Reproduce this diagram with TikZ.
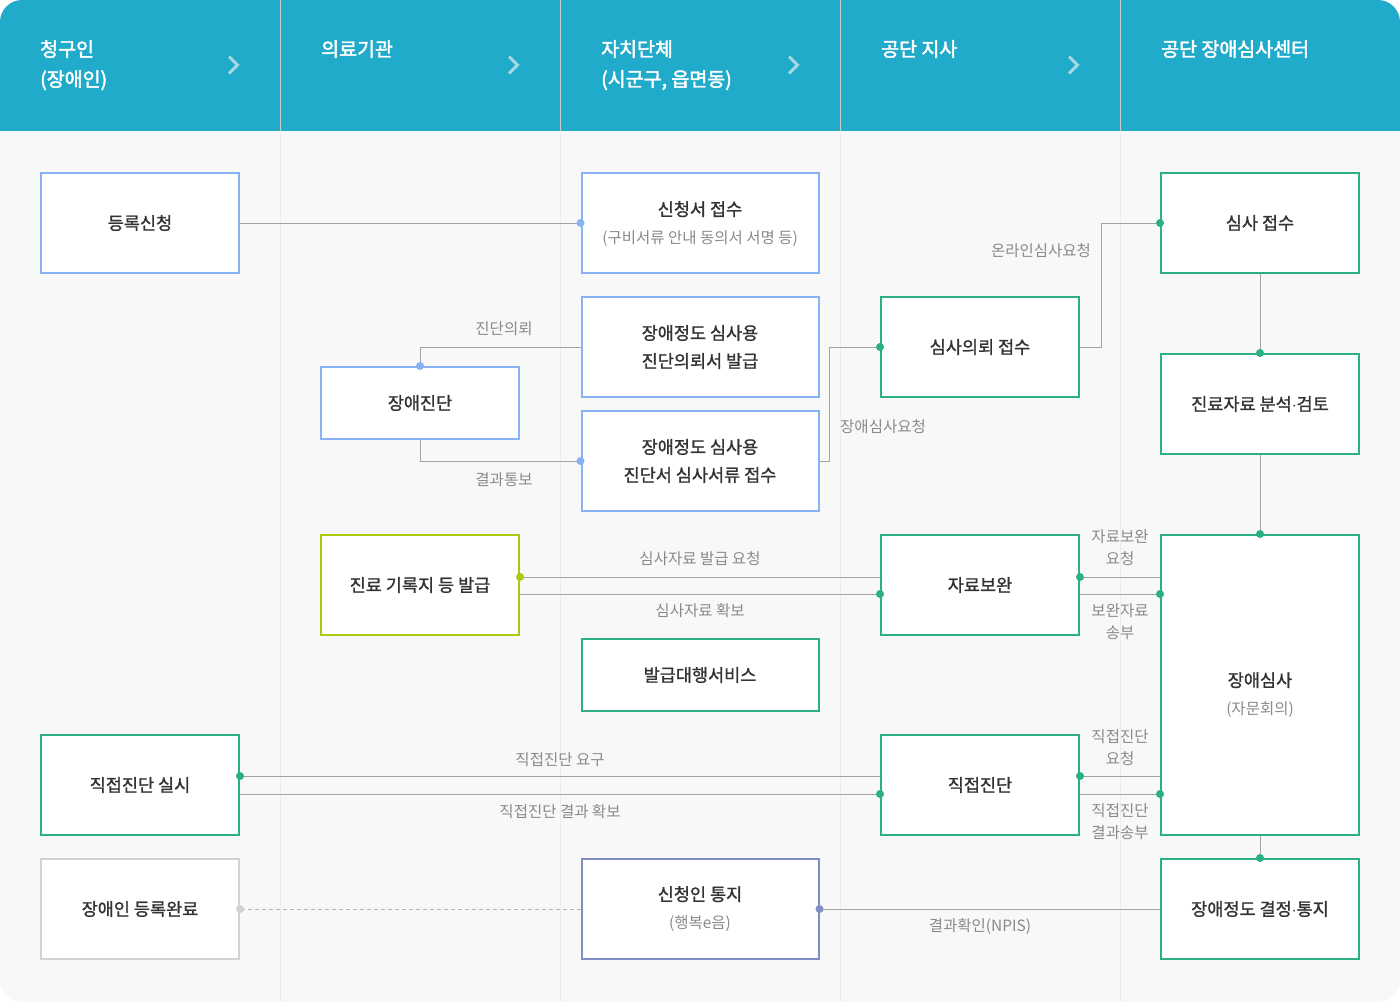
\documentclass[tikz,border=0pt]{standalone}
\usepackage{fontspec}
\setmainfont{Noto Sans CJK KR}
\newfontfamily\krmid{Noto Sans CJK KR}[FakeBold=1.2]
\newfontfamily\krbold{Noto Sans CJK KR}[FakeBold=2.2]
\definecolor{hdr}{HTML}{21ABCB}
\definecolor{bodybg}{HTML}{F8F8F8}
\definecolor{divbody}{HTML}{ECECEC}
\definecolor{divhdr}{HTML}{C9CED0}
\definecolor{chev}{HTML}{A6D6E2}
\definecolor{cblue}{HTML}{88B2F6}
\definecolor{cgreen}{HTML}{2BB07F}
\definecolor{clime}{HTML}{AFC80F}
\definecolor{cgray}{HTML}{D2D2D2}
\definecolor{cpurple}{HTML}{7F8EC4}
\definecolor{ctext}{HTML}{333333}
\definecolor{clabel}{HTML}{8A8A8A}
\definecolor{cline}{HTML}{A3A3A3}
\tikzset{
  box/.style={draw, line width=2pt, fill=white, minimum width=198pt, minimum height=100pt, inner sep=0pt, align=center, text=ctext, font=\krmid\fontsize{17.5}{28}\selectfont},
  widebox/.style={minimum width=237pt},
  shortbox/.style={minimum height=72pt},
  bluebox/.style={box, draw=cblue},
  greenbox/.style={box, draw=cgreen},
  hdrtext/.style={anchor=north west, inner sep=0pt, text=white, align=left, font=\krbold\fontsize{19.5}{30}\selectfont},
  lbl/.style={inner sep=0pt, text=clabel, align=center, font=\fontsize{15.5}{22}\selectfont},
  conn/.style={draw=cline, line width=1pt},
  chevron/.style={draw=chev, line width=3pt},
}
\newcommand{\subt}[1]{{\color{clabel}\fontsize{15.5}{27}\selectfont\normalfont #1}}
\begin{document}
\begin{tikzpicture}[x=1pt,y=-1pt]
\useasboundingbox (0,0) rectangle (1400,1002);
\fill[white] (0,0) rectangle (1400,1002);
\begin{scope}
  \clip[rounded corners=22pt] (0,0) rectangle (1400,1002);
  \fill[bodybg] (0,0) rectangle (1400,1002);
  \fill[hdr] (0,0) rectangle (1400,131);
  \foreach \x in {280.5,560.5,840.5,1120.5} {
    \draw[divhdr, line width=1pt] (\x,0) -- (\x,131);
    \draw[divbody, line width=1pt] (\x,131) -- (\x,1002);
  }
\end{scope}
% header
\node[hdrtext] (h1) at (40,40) {청구인\\(장애인)};
\node[hdrtext] (h2) at (321,40) {의료기관};
\node[hdrtext] (h3) at (601,40) {자치단체\\(시군구, 읍면동)};
\node[hdrtext] (h4) at (881,40) {공단 지사};
\node[hdrtext] (h5) at (1161,40) {공단 장애심사센터};
\foreach \x in {229,509,789,1069} {
  \draw[chevron] (\x,56.5) -- (\x+8.5,65) -- (\x,73.5);
}
% boxes
\node[bluebox] (reg) at (140,223) {등록신청};
\node[bluebox, widebox] (app) at (700,223) {};
\node[align=center, inner sep=0pt, text=ctext, font=\krmid\fontsize{17.5}{28}\selectfont] (apptxt) at (700,224) {신청서 접수\\\subt{(구비서류 안내 동의서 서명 등)}};
\node[bluebox, widebox] (req) at (700,347) {장애정도 심사용\\진단의뢰서 발급};
\node[bluebox, shortbox] (diag) at (420,403) {장애진단};
\node[bluebox, widebox] (rcv) at (700,461) {장애정도 심사용\\진단서 심사서류 접수};
\node[greenbox] (rvq) at (980,347) {심사의뢰 접수};
\node[greenbox] (rvr) at (1260,223) {심사 접수};
\node[greenbox] (ana) at (1260,404) {진료자료 분석$\cdot$검토};
\node[box, draw=clime] (rec) at (420,585) {진료 기록지 등 발급};
\node[greenbox] (sup) at (980,585) {자료보완};
\node[greenbox, widebox, shortbox] (svc) at (700,675) {발급대행서비스};
\node[greenbox, minimum height=300pt] (jud) at (1260,685) {};
\node[align=center, inner sep=0pt, text=ctext, font=\krmid\fontsize{17.5}{28}\selectfont] (judtxt) at (1260,695) {장애심사\\\subt{(자문회의)}};
\node[greenbox] (dd1) at (140,785) {직접진단 실시};
\node[greenbox] (dd2) at (980,785) {직접진단};
\node[box, draw=cgray] (done) at (140,909) {장애인 등록완료};
\node[box, widebox, draw=cpurple] (ntf) at (700,909) {신청인 통지\\\subt{(행복e음)}};
\node[greenbox] (fin) at (1260,909) {장애정도 결정$\cdot$통지};
% helper coordinates
\coordinate (r1) at ([yshift=8pt]rec.east);
\coordinate (r2) at ([yshift=-9pt]rec.east);
\coordinate (s1) at ([yshift=8pt]sup.east);
\coordinate (s2) at ([yshift=-9pt]sup.east);
\coordinate (d1) at ([yshift=9pt]dd1.east);
\coordinate (d2) at ([yshift=-9pt]dd1.east);
\coordinate (e1) at ([yshift=9pt]dd2.east);
\coordinate (e2) at ([yshift=-9pt]dd2.east);
% connectors
\draw[conn] (reg.east) -- (app.west);
\fill[cblue] (app.west) circle (4pt);
\draw[conn] (req.west) -| (diag.north);
\fill[cblue] (diag.north) circle (4pt);
\draw[conn] (diag.south) |- (rcv.west);
\fill[cblue] (rcv.west) circle (4pt);
\draw[conn] (rcv.east) -- ++(10,0) |- (rvq.west);
\fill[cgreen] (rvq.west) circle (4pt);
\draw[conn] (rvq.east) -- ++(21,0) |- (rvr.west);
\fill[cgreen] (rvr.west) circle (4pt);
\draw[conn] (rvr.south) -- (ana.north);
\fill[cgreen] (ana.north) circle (4pt);
\draw[conn] (ana.south) -- (jud.north);
\fill[cgreen] (jud.north) circle (4pt);
\draw[conn] (jud.south) -- (fin.north);
\fill[cgreen] (fin.north) circle (4pt);
\draw[conn] (r1 -| sup.west) -- (r1);
\fill[clime] (r1) circle (4pt);
\draw[conn] (r2) -- (r2 -| sup.west);
\fill[cgreen] (r2 -| sup.west) circle (4pt);
\draw[conn] (s1 -| jud.west) -- (s1);
\fill[cgreen] (s1) circle (4pt);
\draw[conn] (s2) -- (s2 -| jud.west);
\fill[cgreen] (s2 -| jud.west) circle (4pt);
\draw[conn] (d1 -| dd2.west) -- (d1);
\fill[cgreen] (d1) circle (4pt);
\draw[conn] (d2) -- (d2 -| dd2.west);
\fill[cgreen] (d2 -| dd2.west) circle (4pt);
\draw[conn] (e1 -| jud.west) -- (e1);
\fill[cgreen] (e1) circle (4pt);
\draw[conn] (e2) -- (e2 -| jud.west);
\fill[cgreen] (e2 -| jud.west) circle (4pt);
\draw[conn] (fin.west) -- (ntf.east);
\fill[cpurple] (ntf.east) circle (4pt);
\draw[draw=cline!80, line width=1pt, dash pattern=on 4pt off 3pt] (ntf.west) -- (done.east);
\fill[cgray] (done.east) circle (4pt);
% labels
\node[lbl] (l1) at (504,329) {진단의뢰};
\node[lbl] (l2) at (504,480) {결과통보};
\node[lbl] (l3) at (883,427) {장애심사요청};
\node[lbl] (l4) at (1041,251) {온라인심사요청};
\node[lbl] (l5) at (700,559) {심사자료 발급 요청};
\node[lbl] (l6) at (700,611) {심사자료 확보};
\node[lbl] (l7) at (1120,548) {자료보완\\요청};
\node[lbl] (l8) at (1120,622) {보완자료\\송부};
\node[lbl] (l9) at (560,760) {직접진단 요구};
\node[lbl] (l10) at (560,812) {직접진단 결과 확보};
\node[lbl] (l11) at (1120,748) {직접진단\\요청};
\node[lbl] (l12) at (1120,822) {직접진단\\결과송부};
\node[lbl] (l13) at (980,927) {결과확인(NPIS)};
\end{tikzpicture}
\end{document}
